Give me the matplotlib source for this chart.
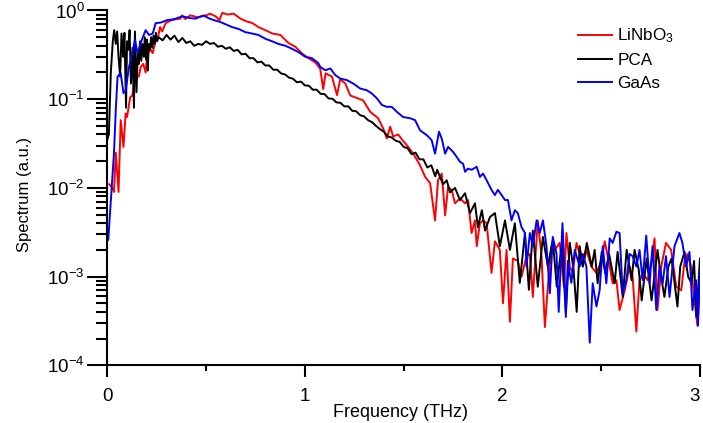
import numpy as np
import matplotlib
matplotlib.use('Agg')
import matplotlib.pyplot as plt
from matplotlib.ticker import LogLocator, MultipleLocator, LogFormatterSciNotation

plt.rcParams['font.family'] = ['Liberation Sans', 'DejaVu Sans']
plt.rcParams['mathtext.default'] = 'regular'

# (frequency THz, spectrum a.u.)
lnb = np.array([
    (0.010, 0.011), (0.025, 0.010), (0.034, 0.009), (0.043, 0.025), (0.057, 0.009),
    (0.068, 0.058), (0.082, 0.029), (0.093, 0.069), (0.100, 0.063), (0.116, 0.105),
    (0.127, 0.110), (0.135, 0.150), (0.149, 0.187), (0.160, 0.180), (0.169, 0.230),
    (0.182, 0.250), (0.194, 0.200), (0.203, 0.330), (0.220, 0.360), (0.230, 0.330),
    (0.245, 0.460), (0.257, 0.500), (0.267, 0.650), (0.278, 0.580), (0.295, 0.720),
    (0.310, 0.750), (0.328, 0.780), (0.350, 0.800), (0.370, 0.810), (0.378, 0.880),
    (0.395, 0.800), (0.420, 0.880), (0.440, 0.860), (0.455, 0.840), (0.480, 0.860),
    (0.500, 0.880), (0.520, 0.920), (0.548, 0.860), (0.568, 0.780), (0.582, 0.940),
    (0.610, 0.900), (0.640, 0.920), (0.674, 0.810), (0.700, 0.760), (0.735, 0.720),
    (0.765, 0.650), (0.800, 0.600), (0.836, 0.550), (0.876, 0.530), (0.917, 0.430),
    (0.952, 0.390), (0.987, 0.326), (1.018, 0.290), (1.053, 0.260), (1.078, 0.220),
    (1.093, 0.130), (1.105, 0.196), (1.137, 0.180), (1.163, 0.111), (1.179, 0.168),
    (1.205, 0.150), (1.230, 0.110), (1.264, 0.103), (1.295, 0.097), (1.331, 0.072),
    (1.371, 0.061), (1.396, 0.047), (1.415, 0.036), (1.432, 0.049), (1.447, 0.038),
    (1.472, 0.040), (1.497, 0.034), (1.523, 0.029), (1.548, 0.0245), (1.583, 0.018),
    (1.609, 0.0133), (1.634, 0.0113), (1.659, 0.0043), (1.674, 0.0122), (1.693, 0.0145),
    (1.710, 0.0049), (1.725, 0.0103), (1.743, 0.0095), (1.760, 0.0067), (1.785, 0.0076),
    (1.811, 0.0067), (1.826, 0.0073), (1.844, 0.0031), (1.861, 0.0043), (1.870, 0.0022),
    (1.886, 0.0040), (1.902, 0.0043), (1.920, 0.0040), (1.945, 0.0011), (1.962, 0.0025),
    (1.987, 0.0020), (2.003, 0.0005), (2.021, 0.0020), (2.038, 0.00031), (2.053, 0.0016),
    (2.078, 0.0015), (2.097, 0.0010), (2.122, 0.0017), (2.139, 0.0018), (2.154, 0.00059),
    (2.179, 0.0043), (2.198, 0.0017), (2.215, 0.00027), (2.230, 0.00077), (2.248, 0.0022),
    (2.265, 0.0020), (2.290, 0.0024), (2.311, 0.00077), (2.324, 0.0031), (2.341, 0.0013),
    (2.356, 0.0011), (2.375, 0.0024), (2.391, 0.0018), (2.407, 0.0013), (2.425, 0.0020),
    (2.450, 0.0013), (2.476, 0.0011), (2.501, 0.0015), (2.518, 0.0025), (2.543, 0.0013),
    (2.558, 0.00084), (2.577, 0.00091), (2.593, 0.00042), (2.619, 0.0007), (2.644, 0.0013),
    (2.659, 0.0010), (2.678, 0.00024), (2.694, 0.00091), (2.710, 0.0011), (2.735, 0.00091),
    (2.754, 0.0015), (2.770, 0.0027), (2.785, 0.00042), (2.804, 0.0013), (2.828, 0.0024),
    (2.854, 0.0020), (2.880, 0.00077), (2.905, 0.0007), (2.922, 0.0015), (2.937, 0.0018),
    (2.955, 0.0013), (2.972, 0.00054), (2.987, 0.00028), (3.000, 0.00084),
])

pca = np.array([
    (0.000, 0.035), (0.008, 0.040), (0.018, 0.200), (0.028, 0.450), (0.035, 0.600),
    (0.043, 0.420), (0.050, 0.580), (0.057, 0.300), (0.065, 0.180), (0.072, 0.550),
    (0.080, 0.300), (0.087, 0.560), (0.095, 0.080), (0.100, 0.450), (0.106, 0.360),
    (0.113, 0.600), (0.120, 0.150), (0.128, 0.380), (0.135, 0.080), (0.140, 0.580),
    (0.148, 0.120), (0.155, 0.350), (0.160, 0.250), (0.166, 0.450), (0.172, 0.270),
    (0.178, 0.420), (0.185, 0.300), (0.190, 0.500), (0.196, 0.280), (0.200, 0.470),
    (0.205, 0.210), (0.210, 0.420), (0.216, 0.360), (0.222, 0.500), (0.228, 0.380),
    (0.234, 0.520), (0.240, 0.420), (0.246, 0.560), (0.252, 0.450),
    (0.26, 0.50), (0.28, 0.46), (0.30, 0.53), (0.32, 0.47), (0.34, 0.52), (0.36, 0.44),
    (0.38, 0.49), (0.40, 0.43), (0.42, 0.45), (0.44, 0.40), (0.46, 0.42), (0.48, 0.41),
    (0.50, 0.45), (0.52, 0.42), (0.54, 0.43), (0.56, 0.39), (0.58, 0.40), (0.60, 0.37),
    (0.62, 0.385), (0.64, 0.35), (0.66, 0.36), (0.68, 0.32), (0.70, 0.325), (0.72, 0.29),
    (0.74, 0.29), (0.76, 0.26), (0.78, 0.265), (0.80, 0.24), (0.82, 0.24), (0.84, 0.215),
    (0.86, 0.215), (0.88, 0.195), (0.90, 0.19), (0.92, 0.175), (0.94, 0.17), (0.96, 0.155),
    (0.98, 0.158), (1.00, 0.143), (1.02, 0.142), (1.04, 0.128), (1.06, 0.128), (1.08, 0.115),
    (1.10, 0.114), (1.12, 0.102), (1.14, 0.101), (1.16, 0.092), (1.18, 0.091), (1.20, 0.083),
    (1.22, 0.083), (1.24, 0.074), (1.26, 0.073), (1.28, 0.066), (1.30, 0.064), (1.32, 0.058),
    (1.34, 0.055), (1.36, 0.050), (1.38, 0.046), (1.40, 0.043), (1.42, 0.038), (1.44, 0.037),
    (1.46, 0.034), (1.48, 0.033), (1.50, 0.029), (1.52, 0.028), (1.54, 0.024), (1.56, 0.025),
    (1.58, 0.021), (1.60, 0.021), (1.62, 0.017), (1.64, 0.018), (1.66, 0.0135), (1.67, 0.016),
    (1.684, 0.0133), (1.700, 0.011), (1.718, 0.0122), (1.735, 0.0089), (1.760, 0.0100),
    (1.785, 0.0073), (1.811, 0.0087), (1.836, 0.0052), (1.861, 0.0067), (1.876, 0.0036),
    (1.896, 0.0056), (1.912, 0.0033), (1.937, 0.0047), (1.962, 0.0052), (1.987, 0.0022),
    (2.013, 0.0043), (2.038, 0.0020), (2.063, 0.0040), (2.088, 0.00085), (2.114, 0.0031),
    (2.134, 0.00071), (2.154, 0.0033), (2.179, 0.00077), (2.205, 0.0028), (2.230, 0.0013),
    (2.255, 0.0026), (2.275, 0.00077), (2.301, 0.0024), (2.321, 0.00039), (2.341, 0.0024),
    (2.360, 0.0012), (2.376, 0.0004), (2.391, 0.0022), (2.407, 0.0013), (2.427, 0.0024),
    (2.452, 0.0013), (2.467, 0.0020), (2.482, 0.00084), (2.503, 0.0019), (2.520, 0.0011),
    (2.540, 0.0018), (2.555, 0.0012), (2.568, 0.00084), (2.583, 0.0019), (2.609, 0.00059),
    (2.629, 0.0020), (2.654, 0.00091), (2.669, 0.0020), (2.690, 0.0012), (2.705, 0.00054),
    (2.730, 0.0016), (2.755, 0.00054), (2.785, 0.0020), (2.800, 0.0011), (2.820, 0.00059),
    (2.840, 0.0013), (2.856, 0.0016), (2.870, 0.0009), (2.886, 0.00046), (2.900, 0.0013),
    (2.922, 0.0019), (2.940, 0.0010), (2.957, 0.00084), (2.970, 0.0015), (2.982, 0.00035),
    (3.000, 0.0016),
])

gaas = np.array([
    (0.005, 0.0026), (0.018, 0.0073), (0.034, 0.025), (0.043, 0.075), (0.052, 0.180),
    (0.068, 0.196), (0.082, 0.117), (0.093, 0.126), (0.110, 0.230), (0.127, 0.330),
    (0.140, 0.470), (0.153, 0.330), (0.169, 0.430), (0.194, 0.600), (0.211, 0.530),
    (0.230, 0.550), (0.245, 0.720), (0.270, 0.730), (0.304, 0.780), (0.340, 0.800),
    (0.380, 0.860), (0.420, 0.820), (0.447, 0.810), (0.487, 0.880), (0.513, 0.820),
    (0.538, 0.780), (0.573, 0.740), (0.598, 0.700), (0.632, 0.650), (0.664, 0.620),
    (0.699, 0.570), (0.733, 0.550), (0.765, 0.530), (0.800, 0.480), (0.834, 0.450),
    (0.866, 0.420), (0.902, 0.400), (0.935, 0.370), (0.967, 0.340), (1.003, 0.300),
    (1.036, 0.290), (1.068, 0.255), (1.078, 0.231), (1.104, 0.212), (1.129, 0.222),
    (1.154, 0.187), (1.179, 0.171), (1.213, 0.164), (1.245, 0.150), (1.280, 0.132),
    (1.314, 0.126), (1.339, 0.116), (1.365, 0.102), (1.390, 0.086), (1.415, 0.082),
    (1.440, 0.082), (1.466, 0.072), (1.497, 0.063), (1.533, 0.061), (1.558, 0.058),
    (1.583, 0.0446), (1.617, 0.0393), (1.642, 0.0345), (1.659, 0.0243), (1.679, 0.043),
    (1.693, 0.036), (1.710, 0.0243), (1.725, 0.029), (1.750, 0.0255), (1.769, 0.0223),
    (1.785, 0.0197), (1.801, 0.0187), (1.811, 0.0152), (1.826, 0.0165), (1.844, 0.0160),
    (1.870, 0.0173), (1.886, 0.0133), (1.902, 0.0145), (1.920, 0.0122), (1.945, 0.0095),
    (1.962, 0.0083), (1.977, 0.0095), (1.996, 0.0083), (2.013, 0.0073), (2.028, 0.0073),
    (2.046, 0.0043), (2.063, 0.0056), (2.078, 0.0052), (2.097, 0.0036), (2.114, 0.0031),
    (2.122, 0.0013), (2.139, 0.0031), (2.154, 0.0022), (2.173, 0.0043), (2.189, 0.0031),
    (2.205, 0.0043), (2.223, 0.0022), (2.240, 0.00065), (2.255, 0.0028), (2.274, 0.0018),
    (2.285, 0.0004), (2.304, 0.0040), (2.311, 0.0018), (2.321, 0.00035), (2.331, 0.0015),
    (2.349, 0.00085), (2.366, 0.0020), (2.391, 0.0013), (2.407, 0.0018), (2.425, 0.0013),
    (2.442, 0.00018), (2.457, 0.00084), (2.476, 0.00046), (2.492, 0.0007), (2.508, 0.0022),
    (2.526, 0.00084), (2.543, 0.0027), (2.558, 0.0024), (2.577, 0.0032), (2.593, 0.0031),
    (2.609, 0.00064), (2.627, 0.00091), (2.644, 0.0018), (2.659, 0.0017), (2.678, 0.0013),
    (2.694, 0.0020), (2.710, 0.00091), (2.728, 0.0029), (2.745, 0.00084), (2.760, 0.0022),
    (2.779, 0.00042), (2.795, 0.0013), (2.811, 0.00084), (2.828, 0.0017), (2.846, 0.00059),
    (2.871, 0.0022), (2.896, 0.0031), (2.911, 0.0024), (2.930, 0.0013), (2.947, 0.0019),
    (2.962, 0.00042), (2.980, 0.00091), (2.990, 0.00028), (3.000, 0.0012),
])

xticks = [0, 1, 2, 3]
series = [(lnb, 'red', 'LiNbO$_3$'), (pca, 'black', 'PCA'), (gaas, 'blue', 'GaAs')]

fig = plt.figure(figsize=(7.03, 4.23), dpi=100)
ax = fig.add_axes([0.1526, 0.1364, 0.8431, 0.8388])

for data, col, lab in series:
    ax.plot(data[:, 0], data[:, 1], color=col, lw=1.4, label=lab)

ax.set_yscale('log')
ax.set_xlim(0, 3)
ax.set_ylim(1e-4, 1.0)

for s in ['top', 'right']:
    ax.spines[s].set_visible(False)
for s in ['left', 'bottom']:
    ax.spines[s].set_linewidth(1.5)

ax.set_xticks(xticks, [str(t) for t in xticks])
ax.xaxis.set_minor_locator(MultipleLocator(0.5))
ax.yaxis.set_major_locator(LogLocator(base=10))
ax.yaxis.set_minor_locator(LogLocator(base=10, subs=np.arange(2, 10)))
ax.yaxis.set_major_formatter(LogFormatterSciNotation())
ax.yaxis.set_minor_formatter(plt.NullFormatter())

ax.tick_params(axis='y', which='major', length=14.5, width=1.5, labelsize=13.5, pad=2)
ax.tick_params(axis='y', which='minor', length=7.7, width=1.5)
ax.tick_params(axis='x', which='major', length=8.6, width=1.5, labelsize=13.5, pad=7.5)
ax.tick_params(axis='x', which='minor', length=4.6, width=1.5)

# keep the last x tick label ("3") inside the figure edge
ax.xaxis.get_major_ticks()[-1].label1.set_horizontalalignment('right')

ax.set_xlabel('Frequency (THz)', fontsize=13)
ax.set_ylabel('Spectrum (a.u.)', fontsize=12)
ax.xaxis.set_label_coords(0.494, -0.108)
ax.yaxis.set_label_coords(-0.127, 0.48)

leg = ax.legend(loc='upper left', bbox_to_anchor=(0.822, 0.937), bbox_transform=fig.transFigure,
                frameon=False, fontsize=12.3, handlelength=2.0, handletextpad=0.3,
                labelspacing=0.45, borderpad=0, borderaxespad=0)
for h in leg.get_lines():
    h.set_linewidth(1.4)

fig.savefig('out.png', dpi=100)
